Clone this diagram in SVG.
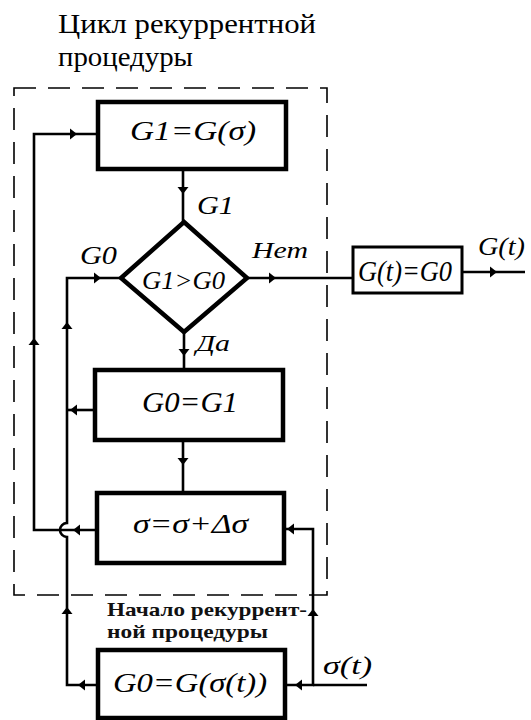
<svg xmlns="http://www.w3.org/2000/svg" xmlns:xlink="http://www.w3.org/1999/xlink" width="531" height="720" viewBox="0 0 531 720">
<style>
.box{fill:#fff;stroke:#000;stroke-width:4.5}
.thin{fill:#fff;stroke:#000;stroke-width:3}
.ln{fill:none;stroke:#000;stroke-width:2.6}
.dash{fill:none;stroke:#000;stroke-width:1.6;stroke-dasharray:22 12}
text{font-family:'Liberation Serif','DejaVu Serif',serif}
.f{font-style:italic;fill:#000}
.t{fill:#000}
.tb{font-weight:bold;fill:#111}
</style>
<defs>
<path id="ah" d="M0,0 L-7,-5.5 L-7,5.5 Z" fill="#000"/>
</defs>
<rect width="531" height="720" fill="#fff"/>
<g id="title">
<text class="t" x="58" y="33" font-size="28" textLength="258" lengthAdjust="spacingAndGlyphs">Цикл рекуррентной</text>
<text class="t" x="58" y="66" font-size="28" textLength="135" lengthAdjust="spacingAndGlyphs">процедуры</text>
</g>
<g id="loop-frame">
<rect class="dash" x="14" y="88" width="313" height="507"/>
</g>
<g id="connectors">
<path class="ln" d="M98,134 H34 V530 H97"/>
<path class="ln" d="M183,169 V222"/>
<path class="ln" d="M184,332 V370"/>
<path class="ln" d="M183,440 V493"/>
<path class="ln" d="M247,278 H353"/>
<path class="ln" d="M462,272 H525"/>
<path class="ln" d="M121,278 H67 V523 A7,7 0 0 0 67,537 V685 H98"/>
<path class="ln" d="M95,410 H67"/>
<path class="ln" d="M284,529 H313 V685 H285"/>
<path class="ln" d="M313,685 H367"/>
<use xlink:href="#ah" transform="translate(77,134)"/>
<use xlink:href="#ah" transform="translate(183,194) rotate(90)"/>
<use xlink:href="#ah" transform="translate(101,278)"/>
<use xlink:href="#ah" transform="translate(276,278)"/>
<use xlink:href="#ah" transform="translate(497,272)"/>
<use xlink:href="#ah" transform="translate(184,356) rotate(90)"/>
<use xlink:href="#ah" transform="translate(67,322) rotate(-90)"/>
<use xlink:href="#ah" transform="translate(34,338) rotate(-90)"/>
<use xlink:href="#ah" transform="translate(70,410) rotate(180)"/>
<use xlink:href="#ah" transform="translate(183,465) rotate(90)"/>
<use xlink:href="#ah" transform="translate(73,530) rotate(180)"/>
<use xlink:href="#ah" transform="translate(287,529) rotate(180)"/>
<use xlink:href="#ah" transform="translate(67,607) rotate(-90)"/>
<use xlink:href="#ah" transform="translate(313,609) rotate(-90)"/>
<use xlink:href="#ah" transform="translate(78,685) rotate(180)"/>
<use xlink:href="#ah" transform="translate(295,685) rotate(180)"/>
<text class="f" x="197" y="214" font-size="26" textLength="37" lengthAdjust="spacingAndGlyphs">G1</text>
<text class="f" x="80" y="264" font-size="26" textLength="37" lengthAdjust="spacingAndGlyphs">G0</text>
<text class="f" x="252" y="258" font-size="24" textLength="56" lengthAdjust="spacingAndGlyphs">Нет</text>
<text class="f" x="196" y="351" font-size="24" textLength="34" lengthAdjust="spacingAndGlyphs">Да</text>
<text class="f" x="478" y="255" font-size="26" textLength="47" lengthAdjust="spacingAndGlyphs">G(t)</text>
<text class="f" x="323" y="674" font-size="26" textLength="49" lengthAdjust="spacingAndGlyphs">σ(t)</text>
</g>
<g id="n-g1">
<rect class="box" x="98" y="102" width="188" height="67"/>
<text class="f" x="130" y="140" font-size="28" textLength="126" lengthAdjust="spacingAndGlyphs">G1=G(σ)</text>
</g>
<g id="n-cmp">
<path class="box" d="M184,222 L247,278 L184,332 L121,278 Z"/>
<text class="f" x="142" y="289" font-size="26" textLength="83" lengthAdjust="spacingAndGlyphs">G1&gt;G0</text>
</g>
<g id="n-out">
<rect class="thin" x="353" y="247" width="109" height="46"/>
<text class="f" x="358" y="281" font-size="29" textLength="94" lengthAdjust="spacingAndGlyphs">G(t)=G0</text>
</g>
<g id="n-g0g1">
<rect class="box" x="95" y="370" width="188" height="70"/>
<text class="f" x="142" y="412" font-size="29" textLength="96" lengthAdjust="spacingAndGlyphs">G0=G1</text>
</g>
<g id="n-step">
<rect class="box" x="97" y="493" width="187" height="70"/>
<text class="f" x="133" y="533" font-size="28" textLength="115" lengthAdjust="spacingAndGlyphs">σ=σ+Δσ</text>
</g>
<g id="start-label">
<text class="tb" x="107" y="616" font-size="19" textLength="200" lengthAdjust="spacingAndGlyphs">Начало рекуррент-</text>
<text class="tb" x="107" y="638" font-size="19" textLength="161" lengthAdjust="spacingAndGlyphs">ной процедуры</text>
</g>
<g id="n-init">
<rect class="box" x="98" y="650" width="187" height="68"/>
<text class="f" x="113" y="692" font-size="28" textLength="154" lengthAdjust="spacingAndGlyphs">G0=G(σ(t))</text>
</g>
</svg>
